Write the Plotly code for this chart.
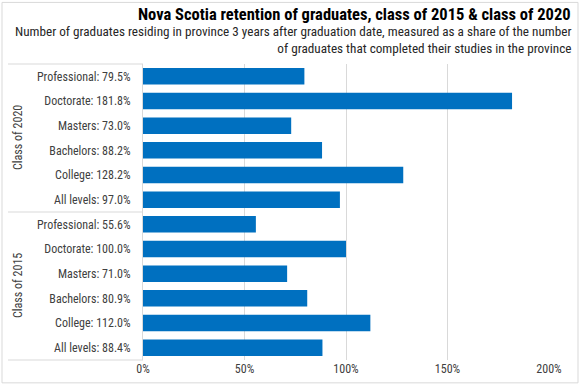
import plotly.graph_objects as go

levels = ["Professional", "Doctorate", "Masters", "Bachelors", "College", "All levels"]
class_2020 = [79.5, 181.8, 73.0, 88.2, 128.2, 97.0]
class_2015 = [55.6, 100.0, 71.0, 80.9, 112.0, 88.4]
groups = ["Class of 2020", "Class of 2015"]
x_ticks = [0, 50, 100, 150, 200]

FONT = "Liberation Sans Narrow, Arial Narrow, Roboto Condensed, Liberation Sans, sans-serif"
BLUE = "#0070C0"
GRID = "#D9D9D9"
TXT = "#404040"

ycats, xvals, ticktext = [], [], []
for g, vals in zip(groups, [class_2020, class_2015]):
    for lvl, v in zip(levels, vals):
        ycats.append(f"{g}|{lvl}")
        xvals.append(v)
        ticktext.append(f"{lvl}: {v:.1f}%")

fig = go.Figure(go.Bar(
    x=xvals, y=ycats, orientation="h",
    marker=dict(color=BLUE, line=dict(width=0)),
    width=0.667,
))

W, H = 581, 388
L, R, T, B = 143, 32, 64, 26
pw, ph = W - L - R, H - T - B

def px(x):
    return (x - L) / pw

def py(y):
    return (H - B - y) / ph

shapes = []
# chart border
shapes.append(dict(type="rect", xref="paper", yref="paper",
                   x0=px(2), x1=px(578), y0=py(385), y1=py(2),
                   line=dict(color=GRID, width=1), layer="below"))
# category box lines
for yy in [1.0, 0.5, 0.0]:
    shapes.append(dict(type="line", xref="paper", yref="paper",
                       x0=px(8), x1=0, y0=yy, y1=yy,
                       line=dict(color=GRID, width=1)))

annotations = []
for g, yy in zip(groups, [0.75, 0.25]):
    annotations.append(dict(text=g, xref="paper", yref="paper", x=px(18), y=yy,
                            xanchor="center", yanchor="middle",
                            textangle=-90, showarrow=False,
                            font=dict(family=FONT, size=12, color=TXT)))
annotations.append(dict(text="<b>Nova Scotia retention of graduates, class of 2015 &amp; class of 2020</b>",
                        xref="paper", yref="paper", x=px(573), y=py(14.5),
                        xanchor="right", yanchor="middle", showarrow=False,
                        font=dict(family=FONT, size=16.5, color="#000000")))
annotations.append(dict(text="Number of graduates residing in province 3 years after graduation date, measured as a share of the number<br>of graduates that completed their studies in the province",
                        xref="paper", yref="paper", x=px(573), y=py(39.5),
                        xanchor="right", yanchor="middle", align="right", showarrow=False,
                        font=dict(family=FONT, size=13.2, color="#262626")))

fig.update_layout(
    width=W, height=H,
    margin=dict(l=L, r=R, t=T, b=B, pad=0),
    paper_bgcolor="white", plot_bgcolor="white",
    showlegend=False,
    bargap=0.333,
    shapes=shapes,
    annotations=annotations,
    xaxis=dict(range=[0, 200], tickvals=x_ticks, ticktext=[f"{t}%" for t in x_ticks],
               showgrid=True, gridcolor=GRID, gridwidth=1, zeroline=False,
               showline=False, ticks="",
               tickfont=dict(family=FONT, size=12, color=TXT)),
    yaxis=dict(type="category", categoryorder="array", categoryarray=ycats,
               tickvals=ycats, ticktext=ticktext, autorange="reversed",
               showline=True, linecolor=GRID, linewidth=1, ticks="",
               showgrid=False, ticklabelstandoff=9,
               tickfont=dict(family=FONT, size=12, color=TXT)),
)

fig.write_html("out.html", config={"displayModeBar": False},
               post_script="document.body.style.margin='0';")
